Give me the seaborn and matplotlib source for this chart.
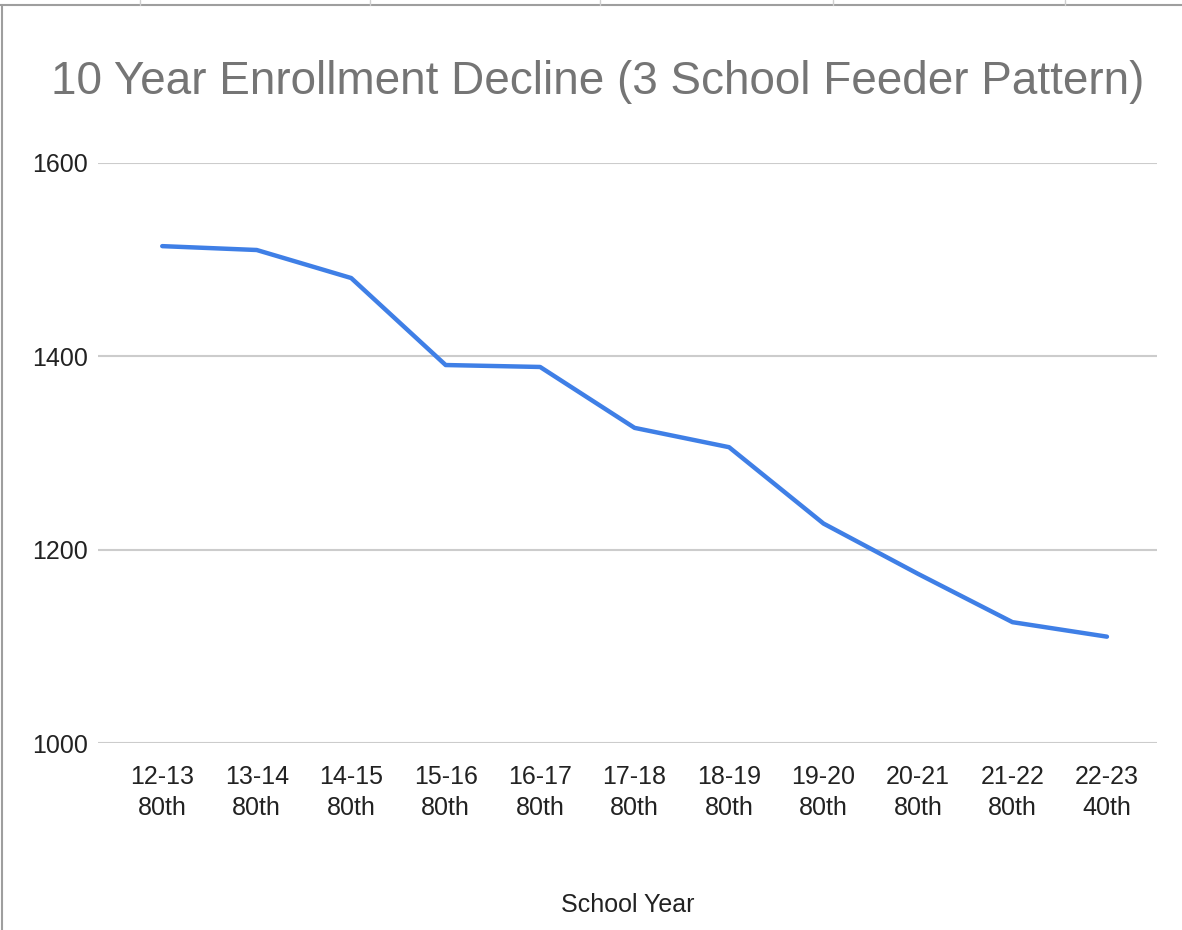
import matplotlib
matplotlib.use("Agg")
import matplotlib.pyplot as plt
from matplotlib import font_manager
import pandas as pd
import seaborn as sns

years = ["12-13", "13-14", "14-15", "15-16", "16-17", "17-18",
         "18-19", "19-20", "20-21", "21-22", "22-23"]
counts = ["80th"] * 10 + ["40th"]
enrollment = [1514, 1510, 1481, 1391, 1389, 1326, 1306, 1227, 1175, 1125, 1110]
y_ticks = [1000, 1200, 1400, 1600]

TITLE = "10 Year Enrollment Decline (3 School Feeder Pattern)"
X_LABEL = "School Year"

sns.set_theme(style="white")
installed = {f.name for f in font_manager.fontManager.ttflist}
narrow = "Liberation Sans Narrow" in installed
plt.rcParams["font.family"] = ["Liberation Sans Narrow" if narrow else "Liberation Sans", "DejaVu Sans"]

df = pd.DataFrame({
    "label": [f"{y}\n{c}" for y, c in zip(years, counts)],
    "enrollment": enrollment,
})

fig = plt.figure(figsize=(11.82, 9.30), dpi=100)
ax = fig.add_axes([98 / 1182, 1 - 743 / 930, (1157 - 98) / 1182, (743 - 163) / 930])

sns.lineplot(data=df, x="label", y="enrollment", ax=ax, color="#3f7fe6",
             linewidth=3.2, sort=False, zorder=3)

ax.set_ylim(1000, 1600)
ax.set_xlim(-0.68, 10.53)
ax.set_yticks(y_ticks)
for v in y_ticks:
    ax.axhline(v, color="#cccccc", linewidth=1.5, zorder=1)
for s in ax.spines.values():
    s.set_visible(False)

fs_tick = 21 if narrow else 18
ax.tick_params(axis="y", length=0, pad=7, labelsize=fs_tick, labelcolor="#222222")
ax.tick_params(axis="x", length=0, pad=16, labelsize=fs_tick, labelcolor="#222222")
for t in ax.get_xticklabels():
    t.set_linespacing(1.35)
ax.set_ylabel("")
ax.set_xlabel(X_LABEL, fontsize=fs_tick, color="#222222", labelpad=53)

fig.text(0.506, 1 - 82 / 930, TITLE, ha="center", va="center",
         fontsize=39 if narrow else 33, color="#757575")

# frame of the embedded chart
fig.add_artist(plt.Line2D([0, 1], [1 - 5 / 930, 1 - 5 / 930], color="#9e9e9e", linewidth=1.5))
fig.add_artist(plt.Line2D([2 / 1182, 2 / 1182], [0, 1 - 5 / 930], color="#9e9e9e", linewidth=1.5))
for xp in [140, 370, 600, 833, 1065]:
    fig.add_artist(plt.Line2D([xp / 1182, xp / 1182], [1 - 5 / 930, 1], color="#cfcfcf", linewidth=1))

fig.savefig("out.png", dpi=100, facecolor="white")
